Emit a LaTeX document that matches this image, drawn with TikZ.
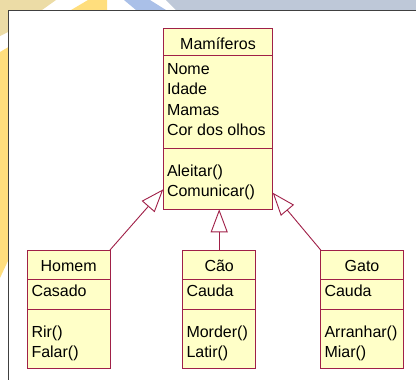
\documentclass[tikz,border=0pt]{standalone}
\usepackage{fontspec}
\setmainfont{Liberation Sans}
\usetikzlibrary{arrows.meta,calc}
\definecolor{umlline}{RGB}{160,32,72}
\definecolor{umlfill}{RGB}{255,255,200}
\definecolor{bggray}{RGB}{190,200,216}
\definecolor{bgblue}{RGB}{170,192,232}
\definecolor{bgyellow}{RGB}{255,222,125}
\definecolor{bgbeige}{RGB}{236,220,166}
\definecolor{framec}{RGB}{64,64,64}
\begin{document}
\begin{tikzpicture}[x=1bp,y=-1bp,
  umlbox/.style={draw=umlline,fill=umlfill,line width=0.9bp,inner sep=0,outer sep=0,anchor=north west},
  sepline/.style={draw=umlline,line width=0.9bp},
  txt/.style={font=\fontsize{16bp}{20bp}\selectfont,inner sep=0,outer sep=0,text=black},
  gen/.style={draw=umlline,line width=0.9bp,-{Triangle[open,length=23bp,width=17bp,line width=0.9bp]}}]
\useasboundingbox (0,0) rectangle (416,380);
% background decoration
\fill[bgbeige] (0,0) -- (56,0) -- (42,10) -- (8,32) -- (0,36) -- cycle;
\fill[bgyellow] (88,0) -- (107,0) -- (107,10) -- (20,235) -- (0,278) -- (0,52) -- cycle;
\fill[bgblue] (124,0) -- (150,0) -- (166,10) -- (136,10) -- cycle;
\fill[bggray] (166,0) -- (416,0) -- (416,10) -- (176,10) -- cycle;
% frame
\draw[framec,fill=white,line width=1.5bp] (8.5,10.5) rectangle (425,390);
% Mamiferos
\node[umlbox,minimum width=109.4bp,minimum height=181bp] (mam) at (163.3,28.3) {};
\draw[sepline] ($(mam.north west)+(0,26.7)$) -- ($(mam.north east)+(0,26.7)$);
\draw[sepline] ($(mam.north west)+(0,120)$) -- ($(mam.north east)+(0,120)$);
\node[txt,anchor=base] (mamt) at (218,49.5) {Mamíferos};
\node[txt,anchor=base west] (mama1) at (167,74) {Nome};
\node[txt,anchor=base west] (mama2) at (167,94.5) {Idade};
\node[txt,anchor=base west] (mama3) at (167,115) {Mamas};
\node[txt,anchor=base west] (mama4) at (167,135.5) {Cor dos olhos};
\node[txt,anchor=base west] (mamm1) at (167,176) {Aleitar()};
\node[txt,anchor=base west] (mamm2) at (167,196.5) {Comunicar()};
% Homem
\node[umlbox,minimum width=82.7bp,minimum height=118.7bp] (hom) at (27.3,250) {};
\draw[sepline] ($(hom.north west)+(0,29)$) -- ($(hom.north east)+(0,29)$);
\draw[sepline] ($(hom.north west)+(0,59.3)$) -- ($(hom.north east)+(0,59.3)$);
\node[txt,anchor=base] (homt) at (68.7,271.5) {Homem};
\node[txt,anchor=base west] (homa1) at (31.5,296) {Casado};
\node[txt,anchor=base west] (homm1) at (31.5,337) {Rir()};
\node[txt,anchor=base west] (homm2) at (31.5,357.5) {Falar()};
% Cao
\node[umlbox,minimum width=73bp,minimum height=118.7bp] (cao) at (182.7,250) {};
\draw[sepline] ($(cao.north west)+(0,29)$) -- ($(cao.north east)+(0,29)$);
\draw[sepline] ($(cao.north west)+(0,59.3)$) -- ($(cao.north east)+(0,59.3)$);
\node[txt,anchor=base] (caot) at (219.2,271.5) {Cão};
\node[txt,anchor=base west] (caoa1) at (186.5,296) {Cauda};
\node[txt,anchor=base west] (caom1) at (186.5,337) {Morder()};
\node[txt,anchor=base west] (caom2) at (186.5,357.5) {Latir()};
% Gato
\node[umlbox,minimum width=82.6bp,minimum height=118.7bp] (gat) at (320.7,250) {};
\draw[sepline] ($(gat.north west)+(0,29)$) -- ($(gat.north east)+(0,29)$);
\draw[sepline] ($(gat.north west)+(0,59.3)$) -- ($(gat.north east)+(0,59.3)$);
\node[txt,anchor=base] (gatt) at (362,271.5) {Gato};
\node[txt,anchor=base west] (gata1) at (324.5,296) {Cauda};
\node[txt,anchor=base west] (gatm1) at (324.5,337) {Arranhar()};
\node[txt,anchor=base west] (gatm2) at (324.5,357.5) {Miar()};
% generalization connectors
\coordinate (tiph) at (163.3,189.3);
\coordinate (tipg) at (272.7,192.7);
\coordinate (tipc) at (cao.north |- mam.south);
\draw[gen] (hom.north east) -- (tiph);
\draw[gen] (cao.north) -- (tipc);
\draw[gen] (gat.north west) -- (tipg);
\end{tikzpicture}
\end{document}
